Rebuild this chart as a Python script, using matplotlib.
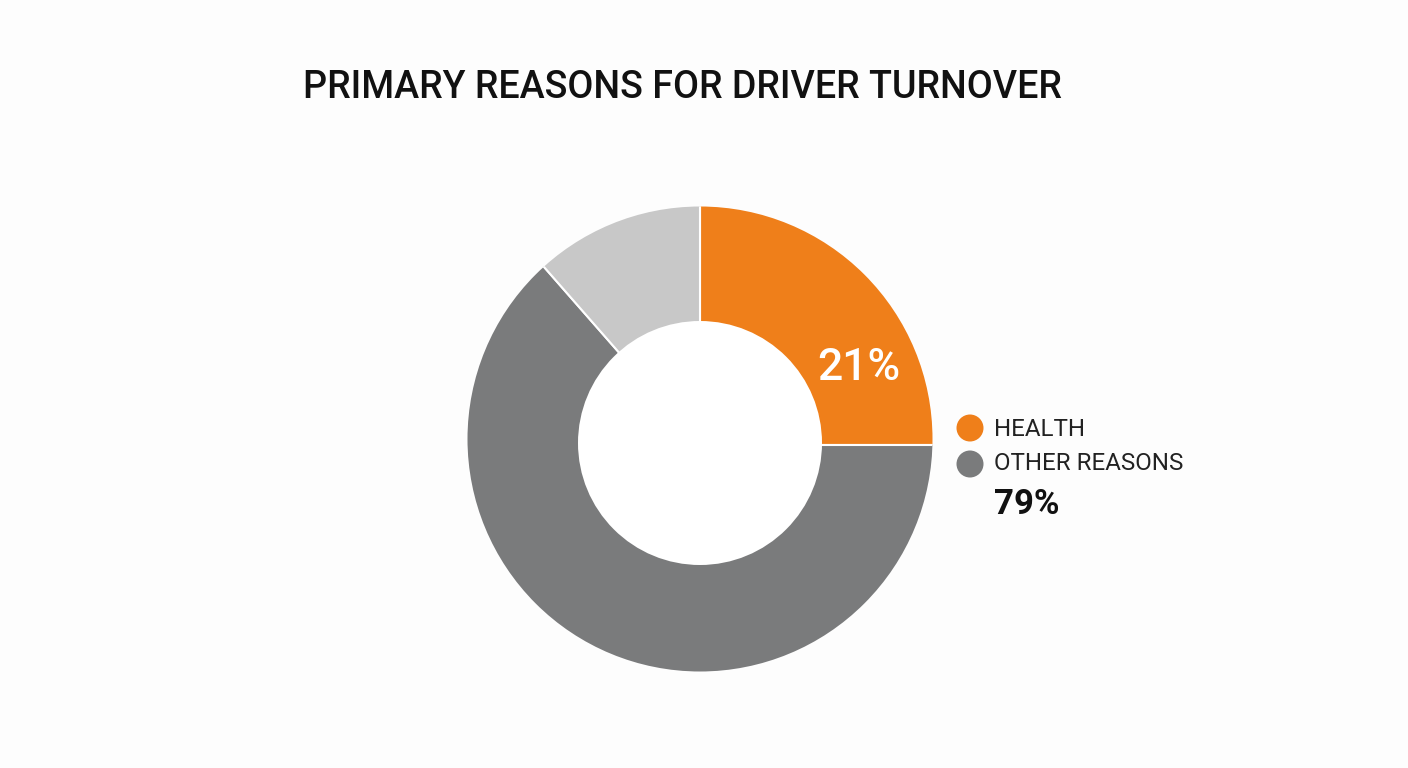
import matplotlib
matplotlib.use("Agg")
import matplotlib.pyplot as plt
from matplotlib.patches import Circle

plt.rcParams['font.family'] = ['Roboto', 'DejaVu Sans']

title = 'PRIMARY REASONS FOR DRIVER TURNOVER'
# wedge sizes as drawn, the printed labels do not quite agree with them
sizes = [25, 63.55, 11.45]
colors = ['#ef7f1a', '#7a7b7c', '#c8c8c8']
legend_names = ['HEALTH', 'OTHER REASONS']
legend_colors = ['#ef7f1a', '#7a7b7c']
health_label = '21%'
other_label = '79%'

W, H = 1408, 768
fig = plt.figure(figsize=(W / 100, H / 100), dpi=100, facecolor='#fdfdfd')

# overlay axes in pixel coords, kept above the donut
ax = fig.add_axes([0, 0, 1, 1])
ax.set_xlim(0, W)
ax.set_ylim(H, 0)
ax.axis('off')
ax.set_zorder(2)

# the wedges meet a little below the middle of the ring, so the pie is
# centred there and trimmed by an outer circle and a hole of its own
R = 245
pie_ax = fig.add_axes([(700 - R) / W, 1 - (445 + R) / H, 2 * R / W, 2 * R / H])
wedges, _ = pie_ax.pie(
    sizes,
    colors=colors,
    startangle=90,
    counterclock=False,
    radius=1,
    wedgeprops=dict(edgecolor='white', linewidth=1.5),
)
pie_ax.set_xlim(-1, 1)
pie_ax.set_ylim(-1, 1)

outer = Circle((0, 6 / R), 232.5 / R, transform=pie_ax.transData)
for w in wedges:
    # pie turns clipping off on its wedges
    w.set_clip_on(True)
    w.set_clip_path(outer)
pie_ax.add_patch(Circle((0, 2 / R), 122 / R, facecolor='white', edgecolor='none', zorder=5))

ax.text(682, 87, title, fontsize=27.1, color='#111111', ha='center', va='center', fontweight='medium')
ax.text(859, 368, health_label, fontsize=32, color='white', ha='center', va='center', fontweight='medium')

ax.scatter([970, 970], [428, 464], s=378, c=legend_colors, linewidths=0)
ax.text(994, 429, legend_names[0], fontsize=17.4, color='#222222', ha='left', va='center')
ax.text(994, 464, legend_names[1], fontsize=17.4, color='#222222', ha='left', va='center')
ax.text(994, 504, other_label, fontsize=25, color='#111111', ha='left', va='center', fontweight='bold')

fig.savefig('out.png', dpi=100, facecolor=fig.get_facecolor())
